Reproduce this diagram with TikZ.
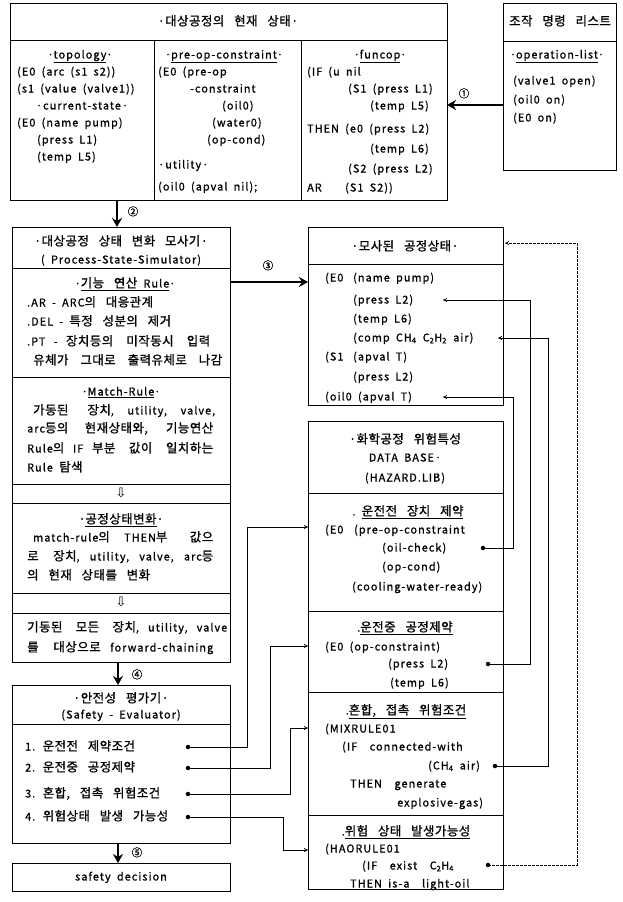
\documentclass[tikz,border=0pt]{standalone}
\usepackage{fontspec}
\setmainfont{Noto Sans CJK KR}[LetterSpace=10,WordSpace=1.8,FakeBold=1]
\newfontfamily\kr{Noto Sans CJK KR}[Scale=1.15,LetterSpace=4,WordSpace=3,FakeBold=1]
\newfontfamily\djv{DejaVu Sans}
\usetikzlibrary{arrows.meta}
\newcommand\fs{\fontsize{10.8}{13}\selectfont}
\newcommand\K[1]{{\kr #1}}
\newcommand\sub[1]{\textsubscript{#1}}
\begin{document}
\begin{tikzpicture}[x=1pt,y=-1pt,
  box/.style={draw,line width=0.8pt},
  txt/.style={inner sep=0pt,anchor=west,text height=8.5pt,text depth=1.5pt,font=\fs},
  ctr/.style={inner sep=0pt,anchor=center,text height=8.5pt,text depth=1.5pt,font=\fs},
  bigarrow/.style={line width=2.6pt,-{Stealth[length=9pt,width=10pt]}},
  conn/.style={line width=0.7pt,-{To[length=4pt,width=4pt]}},
  dotc/.style={circle,fill,inner sep=0pt,minimum size=4.5pt},
  hol/.style={inner sep=0pt,anchor=center,font=\djv\fontsize{13}{14}\selectfont}]
\useasboundingbox[fill=white] (0,0) rectangle (622,902);

% ---------- top box: current state ----------
\draw[box] (10,3) rectangle (447,200);
\draw[box] (10,40) -- (447,40);
\draw[box] (154,40) -- (154,200);
\draw[box] (301,40) -- (301,200);
\node[ctr] (toph) at (228,22) {\K{·대상공정의 현재 상태·}};
% column 1
\node[ctr] (c1a) at (80,55) {·\underline{topology}·};
\node[txt] (c1b) at (17,72) {(E0 (arc (s1 s2))};
\node[txt] (c1c) at (17,89) {(s1 (value (valve1))};
\node[ctr] (c1d) at (82,106) {·current-state·};
\node[txt] (c1e) at (17,123) {(E0 (name pump)};
\node[txt] (c1f) at (37,140) {(press L1)};
\node[txt] (c1g) at (37,157) {(temp L5)};
% column 2
\node[ctr] (c2a) at (224,55) {·\underline{pre-op-constraint}·};
\node[txt] (c2b) at (158,72) {(E0 (pre-op};
\node[txt] (c2c) at (190,89) {-constraint};
\node[txt] (c2d) at (222,106) {(oil0)};
\node[txt] (c2e) at (212,123) {(water0)};
\node[txt] (c2f) at (207,140) {(op-cond)};
\node[txt] (c2g) at (158,165) {·utility·};
\node[txt] (c2h) at (158,187) {(oil0 (apval nil);};
% column 3
\node[ctr] (c3a) at (380,55) {·\underline{funcop}·};
\node[txt] (c3b) at (307,72) {(IF (u nil};
\node[txt] (c3c) at (348,89) {(S1 (press L1)};
\node[txt] (c3d) at (370,106) {(temp L5)};
\node[txt] (c3e) at (307,129) {THEN (e0 (press L2)};
\node[txt] (c3f) at (370,149) {(temp L6)};
\node[txt] (c3g) at (348,169) {(S2 (press L2)};
\node[txt] (c3h) at (307,188) {AR};
\node[txt] (c3i) at (345,188) {(S1 S2))};

% ---------- operation list ----------
\draw[box] (503,3) rectangle (616,170);
\draw[box] (503,41) -- (616,41);
\node[ctr] (oph) at (560,22) {\K{조작 명령 리스트}};
\node[ctr] (opa) at (557,55) {·\underline{operation-list}·};
\node[txt] (opb) at (513,81) {(valve1 open)};
\node[txt] (opc) at (513,100) {(oil0 on)};
\node[txt] (opd) at (513,118) {(E0 on)};
\coordinate (opL) at (503,105);
\coordinate (topR) at (447,105);
\draw[bigarrow] (opL) -- (topR);
\node[ctr] (n1) at (464,94) {①};

% ---------- simulator ----------
\draw[box] (12,227) rectangle (230,662);
\foreach \yy in {268,377,484,503,593,613} \draw[box] (12,\yy) -- (230,\yy);
\node[ctr] (sh1) at (121,242) {\K{·대상공정 상태 변화 모사기·}};
\node[ctr] (sh2) at (121,260) {( Process-State-Simulator)};
\node[ctr] (sa0) at (125,284) {·\underline{\K{기능 연산} Rule}·};
\node[txt] (sa1) at (27,303) {.AR - ARC\K{의 대응관계}};
\node[txt] (sa2) at (27,322) {.DEL - \K{특정 성분의 제거}};
\node[txt] (sa3) at (27,342) {\makebox[183pt][s]{.PT - \K{장치등의 미작동시 입력}}};
\node[txt] (sa4) at (33,361) {\makebox[189pt][s]{\K{유체가 그대로 출력유체로 나감}}};
\node[ctr] (sb0) at (121,392) {·\underline{Match-Rule}·};
\node[txt] (sb1) at (33,411) {\makebox[182pt][s]{\K{가동된 장치}, utility, valve,}};
\node[txt] (sb2) at (27,429) {\makebox[186pt][s]{arc\K{등의 현재상태와, 기능연산}}};
\node[txt] (sb3) at (27,449) {\makebox[186pt][s]{Rule\K{의} IF \K{부분 값이 일치하는}}};
\node[txt] (sb4) at (27,468) {Rule \K{탐색}};
\node[hol] (ar1) at (121,493) {⇩};
\node[ctr] (sc0) at (121,520) {\K{·\underline{공정상태변화}·}};
\node[txt] (sc1) at (33,538) {\makebox[180pt][s]{match-rule\K{의} THEN\K{부 값으}}};
\node[txt] (sc2) at (27,557) {\makebox[186pt][s]{\K{로 장치}, utility, valve, arc\K{등}}};
\node[txt] (sc3) at (27,576) {\K{의 현재 상태를 변화}};
\node[hol] (ar2) at (121,602) {⇩};
\node[txt] (sd1) at (27,628) {\makebox[200pt][s]{\K{기동된 모든 장치}, utility, valve}};
\node[txt] (sd2) at (27,648) {\makebox[186pt][s]{\K{를 대상으로} forward-chaining}};

\coordinate (topB) at (117,200);
\coordinate (simT) at (117,227);
\draw[bigarrow] (topB) -- (simT);
\node[ctr] (n2) at (133,212) {②};
\coordinate (simR) at (230,282);
\coordinate (msL) at (308,282);
\draw[bigarrow] (simR) -- (msL);
\node[ctr] (n3) at (268,266) {③};

% ---------- simulated state ----------
\draw[box] (308,227) rectangle (503,405);
\draw[box] (308,264) -- (503,264);
\node[ctr] (msh) at (405,247) {\K{·모사된 공정상태·}};
\node[txt] (ms1) at (325,278) {(E0};
\node[txt] (ms1b) at (353,278) {(name pump)};
\node[txt] (ms2) at (353,300) {(press L2)};
\node[txt] (ms3) at (353,319) {(temp L6)};
\node[txt] (ms4) at (353,338) {(comp CH\sub{4} C\sub{2}H\sub{2} air)};
\node[txt] (ms5) at (325,357) {(S1};
\node[txt] (ms5b) at (353,357) {(apval T)};
\node[txt] (ms6) at (353,377) {(press L2)};
\node[txt] (ms7) at (325,397) {(oil0 (apval T)};

% ---------- hazard data base ----------
\draw[box] (308,421) rectangle (503,889);
\foreach \yy in {493,611,692,815} \draw[box] (308,\yy) -- (503,\yy);
\node[ctr] (dbh1) at (405,440) {\K{·화학공정 위험특성}};
\node[ctr] (dbh2) at (405,458) {DATA BASE·};
\node[ctr] (dbh3) at (405,478) {(HAZARD.LIB)};
\node[ctr] (da0) at (408,512) {.\ \underline{\K{운전전 장치 제약}}};
\node[txt] (da1) at (325,530) {(E0};
\node[txt] (da1b) at (354,530) {(pre-op-constraint};
\node[txt] (da2) at (382,548) {(oil-check)};
\node[txt] (da3) at (382,567) {(op-cond)};
\node[txt] (da4) at (352,587) {(cooling-water-ready)};
\node[ctr] (db0) at (405,628) {.\underline{\K{운전중 공정제약}}};
\node[txt] (db1) at (325,647) {(E0 (op-constraint)};
\node[txt] (db2) at (388,664) {(press L2)};
\node[txt] (db3) at (390,683) {(temp L6)};
\node[ctr] (dc0) at (406,711) {.\underline{\K{혼합, 접촉 위험조건}}};
\node[txt] (dc1) at (325,729) {(MIXRULE01};
\node[txt] (dc2) at (342,747) {(IF\ \ connected-with};
\node[txt] (dc3) at (428,766) {(CH\sub{4} air)};
\node[txt] (dc4) at (350,784) {THEN\ \ generate};
\node[txt] (dc5) at (397,803) {explosive-gas)};
\node[ctr] (dd0) at (406,832) {.\underline{\K{위험 상태 발생가능성}}};
\node[txt] (dd1) at (325,849) {(HAORULE01};
\node[txt] (dd2) at (362,866) {(IF\ \ exist\ \ C\sub{2}H\sub{4}};
\node[txt] (dd3) at (350,884) {THEN is-a\ \ light-oil};

% ---------- safety evaluator ----------
\draw[box] (12,685) rectangle (230,843);
\draw[box] (12,724) -- (230,724);
\node[ctr] (seh1) at (121,699) {\K{·안전성 평가기·}};
\node[ctr] (seh2) at (121,715) {(Safety - Evaluator)};
\node[txt] (se1) at (25,747) {1. \K{운전전 제약조건}};
\node[txt] (se2) at (25,768) {2. \K{운전중 공정제약}};
\node[txt] (se3) at (25,794) {3. \K{혼합, 접촉 위험조건}};
\node[txt] (se4) at (25,817) {4. \K{위험상태 발생 가능성}};
\draw[box] (12,863) rectangle (230,891);
\node[ctr] (dec) at (121,877) {safety decision};

\coordinate (simB) at (118,662);
\coordinate (seT) at (118,685);
\draw[bigarrow] (simB) -- (seT);
\node[ctr] (n4) at (137,675) {④};
\coordinate (seB) at (118,843);
\coordinate (decT) at (118,863);
\draw[bigarrow] (seB) -- (decT);
\node[ctr] (n5) at (137,853) {⑤};

% ---------- connectors from safety evaluator ----------
\node[dotc] (p1) at (188,747) {};
\node[dotc] (p2) at (188,768) {};
\node[dotc] (p3) at (188,794) {};
\node[dotc] (p4) at (188,817) {};
\coordinate (q1) at (308,527);
\coordinate (q2) at (308,646);
\coordinate (q3) at (308,728);
\coordinate (q4) at (308,850);
\draw[conn] (p1.center) -- (247,747) |- (q1);
\draw[conn] (p2.center) -- (270,768) |- (q2);
\draw[conn] (p3.center) -- (290,794) |- (q3);
\draw[conn] (p4.center) -- (283,817) |- (q4);

% ---------- connectors from data base ----------
\node[dotc] (r1) at (483,548) {};
\node[dotc] (r2) at (488,664) {};
\node[dotc] (r3) at (495,766) {};
\node[dotc] (r4) at (488,865) {};
\coordinate (t1) at (443,397);
\coordinate (t2) at (443,300);
\coordinate (t3) at (498,338);
\coordinate (t4) at (505,243);
\draw[conn] (r1.center) -- (513,548) |- (t1);
\draw[conn] (r2.center) -- (530,664) |- (t2);
\draw[conn] (r3.center) -- (548,766) |- (t3);
\draw[conn,dash pattern=on 3pt off 1pt] (r4.center) -- (577,865) |- (t4);
\end{tikzpicture}
\end{document}
